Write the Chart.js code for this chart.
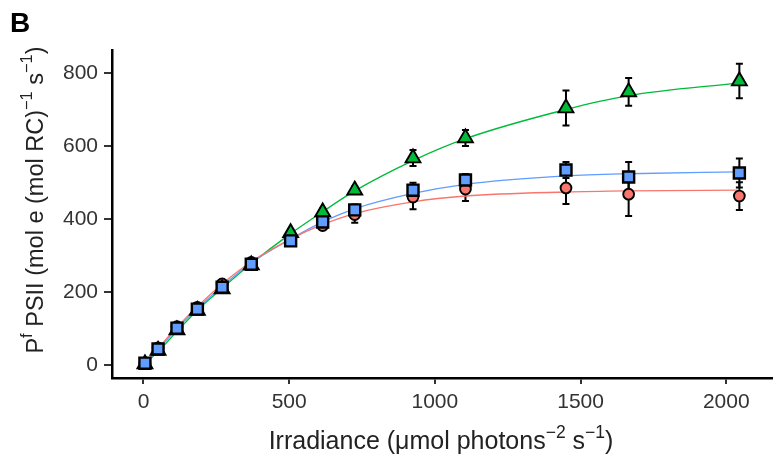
<!DOCTYPE html>
<html>
<head>
<meta charset="utf-8">
<script src="https://cdn.jsdelivr.net/npm/chart.js@4.4.1/dist/chart.umd.min.js"></script>
<style>
  body { margin: 0; background: #fff; }
  #wrap { width: 775px; height: 456px; }
</style>
</head>
<body>
<div id="wrap"><canvas id="chart_PI"></canvas></div>
<script>
// irradiance (x) shared by all three series
var irradiance = [5, 50, 115, 185, 270, 370, 505, 615, 725, 925, 1105, 1450, 1665, 2045];

// measured points
var redVals   = [5, 47, 105, 158, 222, 281, 345, 382, 412, 460, 482, 485, 468, 463];
var blueVals  = [5, 44, 101, 153, 213, 276, 340, 392, 425, 479, 507, 534, 515, 526];
var greenVals = [3, 40, 96, 149, 208, 274, 362, 419, 479, 567, 622, 704, 748, 778];

// error bar half widths
var redErr   = [4, 4, 5, 6, 8, 8, 10, 10, 22, 33, 33, 44, 60, 38];
var blueErr  = [4, 4, 5, 6, 8, 10, 10, 10, 15, 20, 16, 22, 41, 40];
var greenErr = [4, 4, 5, 6, 8, 8, 10, 10, 10, 22, 22, 48, 38, 47];

// fitted curves read at the same irradiances
var redFit   = [4, 45, 104, 160, 222, 283, 345, 385, 415, 447, 463, 474, 477, 479];
var blueFit  = [4, 42, 100, 155, 215, 280, 345, 392, 428, 470, 495, 518, 524, 529];
var greenFit = [3, 37, 92, 150, 210, 278, 360, 420, 477, 560, 620, 700, 738, 773];

var xTicks = [0, 500, 1000, 1500, 2000];
var yTicks = [0, 200, 400, 600, 800];

var red = "#F8766D", blue = "#619CFF", green = "#00BA38";

function pts(ys) {
    return irradiance.map(function (x, i) { return { x: x, y: ys[i] }; });
}

function fitLine(ys, col) {
    return {
        data: pts(ys), showLine: true, borderColor: col, borderWidth: 1.3,
        pointRadius: 0, cubicInterpolationMode: 'monotone', order: 10, fill: false
    };
}

function pointSet(ys, col, style, r, bw, ord, err) {
    return {
        data: pts(ys), showLine: false, backgroundColor: col, borderColor: "#000",
        borderWidth: bw, pointStyle: style, pointRadius: r, pointHoverRadius: r,
        order: ord, errs: err
    };
}

// error bars drawn below the markers
var errorBars = {
    id: 'errorBars',
    beforeDatasetsDraw: function (chart) {
        var ctx = chart.ctx, xs = chart.scales.x, ys = chart.scales.y;
        ctx.save();
        ctx.strokeStyle = "#000";
        ctx.lineWidth = 2;
        chart.data.datasets.forEach(function (ds) {
            if (!ds.errs) return;
            ds.data.forEach(function (p, i) {
                var px = xs.getPixelForValue(p.x);
                var top = ys.getPixelForValue(p.y + ds.errs[i]);
                var bot = ys.getPixelForValue(p.y - ds.errs[i]);
                ctx.beginPath();
                ctx.moveTo(px, top); ctx.lineTo(px, bot);
                ctx.moveTo(px - 3.5, top); ctx.lineTo(px + 3.5, top);
                ctx.moveTo(px - 3.5, bot); ctx.lineTo(px + 3.5, bot);
                ctx.stroke();
            });
        });
        ctx.restore();
    }
};

// draws text pieces with superscripts
function richText(ctx, parts, size) {
    var w = 0;
    parts.forEach(function (p) {
        ctx.font = (p.sup ? size * 0.7 : size) + "px 'Liberation Sans', Arial, sans-serif";
        p.w = ctx.measureText(p.t).width;
        w += p.w;
    });
    var x = -w / 2;
    parts.forEach(function (p) {
        ctx.font = (p.sup ? size * 0.7 : size) + "px 'Liberation Sans', Arial, sans-serif";
        ctx.fillText(p.t, x, p.sup ? -size * 0.45 : 0);
        x += p.w;
    });
}

var labels = {
    id: 'labels',
    afterDraw: function (chart) {
        var ctx = chart.ctx;
        ctx.save();
        ctx.fillStyle = "#000";
        ctx.textBaseline = "alphabetic";
        ctx.textAlign = "left";
        ctx.font = "bold 28px 'Liberation Sans', Arial, sans-serif";
        ctx.fillText("B", 10, 32);

        ctx.fillStyle = "#222";
        ctx.save();
        ctx.translate(441, 449);
        richText(ctx, [
            { t: "Irradiance (\u03bcmol photons" }, { t: "\u22122", sup: true },
            { t: " s" }, { t: "\u22121", sup: true }, { t: ")" }
        ], 25);
        ctx.restore();

        ctx.save();
        ctx.translate(43, 200);
        ctx.rotate(-Math.PI / 2);
        richText(ctx, [
            { t: "P" }, { t: "f", sup: true }, { t: " PSII (mol e (mol RC)" },
            { t: "\u22121", sup: true }, { t: " s" }, { t: "\u22121", sup: true }, { t: ")" }
        ], 23.5);
        ctx.restore();
        ctx.restore();
    }
};

var tickFont = { family: "'Liberation Sans', Arial, sans-serif", size: 21 };
function plain(v) { return String(v); }

new Chart(document.getElementById("chart_PI"), {
    type: 'scatter',
    data: {
        datasets: [
            fitLine(redFit, red),
            fitLine(blueFit, blue),
            fitLine(greenFit, green),
            pointSet(redVals, red, 'circle', 5.4, 1.9, 3, redErr),
            pointSet(greenVals, green, 'triangle', 8.6, 1.9, 2, greenErr),
            pointSet(blueVals, blue, 'rect', 7.8, 2.4, 1, blueErr)
        ]
    },
    options: {
        responsive: true,
        maintainAspectRatio: false,
        animation: false,
        layout: { autoPadding: false, padding: { left: 0, top: 50, right: 3, bottom: 0 } },
        plugins: { legend: { display: false }, tooltip: { enabled: false } },
        scales: {
            x: {
                type: 'linear', min: -108, max: 2157,
                afterBuildTicks: function (s) { s.ticks = xTicks.map(function (v) { return { value: v }; }); },
                afterFit: function (s) { s.height = 78; },
                border: { display: true, color: "#000", width: 2.5 },
                grid: { display: true, drawOnChartArea: false, drawTicks: true, tickLength: 6, color: "#333", lineWidth: 2 },
                ticks: { color: "#333", font: tickFont, padding: 6, maxRotation: 0, callback: plain }
            },
            y: {
                type: 'linear', min: -35.6, max: 863,
                afterBuildTicks: function (s) { s.ticks = yTicks.map(function (v) { return { value: v }; }); },
                afterFit: function (s) { s.width = 112; },
                border: { display: true, color: "#000", width: 2.5 },
                grid: { display: true, drawOnChartArea: false, drawTicks: true, tickLength: 8, color: "#333", lineWidth: 2 },
                ticks: { color: "#333", font: tickFont, padding: 6, callback: plain }
            }
        }
    },
    plugins: [errorBars, labels]
});
</script>
</body>
</html>
